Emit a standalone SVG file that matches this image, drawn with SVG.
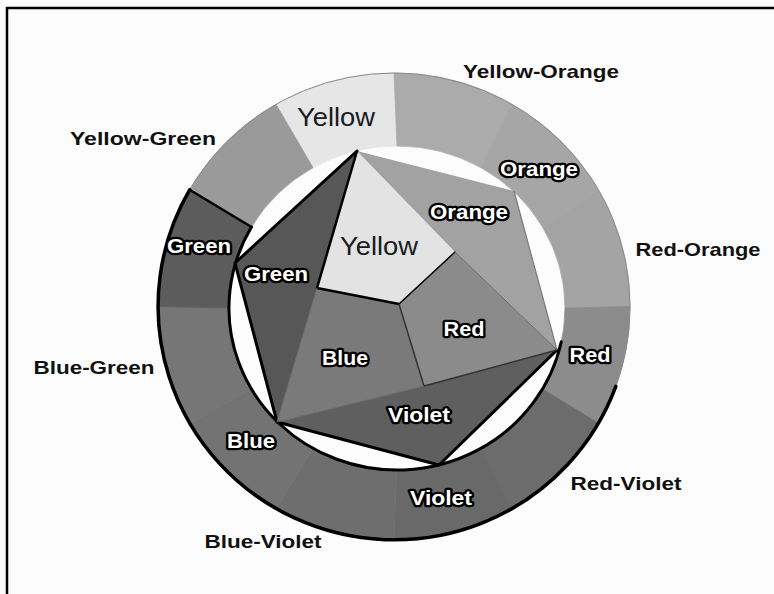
<svg xmlns="http://www.w3.org/2000/svg" width="774" height="594" viewBox="0 0 774 594">
<style>
.seg{stroke-width:0.8}
.out{font-family:"Liberation Sans",Arial,sans-serif;font-weight:bold;font-size:19px;fill:#111;text-anchor:middle}
.wl{font-family:"Liberation Sans",Arial,sans-serif;font-weight:bold;font-size:20px;fill:#fff;stroke:#000;stroke-width:4.5;stroke-linejoin:round;paint-order:stroke;text-anchor:middle}
.yl{font-family:"Liberation Sans",Arial,sans-serif;font-size:25px;fill:#1a1a22;text-anchor:middle}
.edge{fill:none;stroke:#000;stroke-linejoin:round;stroke-linecap:round}
</style>
<rect width="774" height="594" fill="#fdfcfd"/>
<path d="M7,594 L7,8 L774,8" fill="none" stroke="#000" stroke-width="2.5"/>

<g id="ring">
<path id="seg-yellow" class="seg" fill="#e6e6e6" stroke="#e6e6e6" d="M276,104.3 A236,233.5 0 0 1 394,73 L397,146 A168,162 0 0 0 313,167.7 Z"/>
<path id="seg-yellow-orange" class="seg" fill="#ababab" stroke="#ababab" d="M394,73 A236,233.5 0 0 1 512,104.3 L481,167.7 A168,162 0 0 0 397,146 Z"/>
<path id="seg-orange" class="seg" fill="#a6a6a6" stroke="#a6a6a6" d="M512,104.3 A236,233.5 0 0 1 598.4,189.8 L542.5,227 A168,162 0 0 0 481,167.7 Z"/>
<path id="seg-red-orange" class="seg" fill="#a4a4a4" stroke="#a4a4a4" d="M598.4,189.8 A236,233.5 0 0 1 630,306.5 L565,308 A168,162 0 0 0 542.5,227 Z"/>
<path id="seg-red" class="seg" fill="#8c8c8c" stroke="#8c8c8c" d="M630,306.5 A236,233.5 0 0 1 598.4,423.3 L542.5,389 A168,162 0 0 0 565,308 Z"/>
<path id="seg-red-violet" class="seg" fill="#6c6c6c" stroke="#6c6c6c" d="M598.4,423.3 A236,233.5 0 0 1 512,508.7 L481,448.3 A168,162 0 0 0 542.5,389 Z"/>
<path id="seg-violet" class="seg" fill="#696969" stroke="#696969" d="M512,508.7 A236,233.5 0 0 1 394,540 L397,470 A168,162 0 0 0 481,448.3 Z"/>
<path id="seg-blue-violet" class="seg" fill="#6e6e6e" stroke="#6e6e6e" d="M394,540 A236,233.5 0 0 1 276,508.7 L313,448.3 A168,162 0 0 0 397,470 Z"/>
<path id="seg-blue" class="seg" fill="#737373" stroke="#737373" d="M276,508.7 A236,233.5 0 0 1 189.6,423.3 L251.5,389 A168,162 0 0 0 313,448.3 Z"/>
<path id="seg-blue-green" class="seg" fill="#767676" stroke="#767676" d="M189.6,423.3 A236,233.5 0 0 1 158,306.5 L229,308 A168,162 0 0 0 251.5,389 Z"/>
<path id="seg-green" class="seg" fill="#5c5c5c" stroke="#5c5c5c" d="M158,306.5 A236,233.5 0 0 1 189.6,189.8 L251.5,227 A168,162 0 0 0 229,308 Z"/>
<path id="seg-yellow-green" class="seg" fill="#9a9a9a" stroke="#9a9a9a" d="M189.6,189.8 A236,233.5 0 0 1 276,104.3 L313,167.7 A168,162 0 0 0 251.5,227 Z"/>
<ellipse cx="394" cy="306.5" rx="236" ry="233.5" fill="none" stroke="#8a8a8a" stroke-width="1"/>
<path class="edge" stroke-width="3.5" d="M615.8,386.4 A236,233.5 0 1 1 189.6,189.8"/>
<path class="edge" stroke-width="3" d="M561.3,341.7 A168,162 0 1 1 251.5,227"/>
<path class="edge" stroke-width="2.5" d="M189.6,189.8 L251.5,227"/>
</g>

<g id="hexagon">
<path id="reg-yellow" fill="#e3e3e3" d="M357,151 L455,252 L399,304 L317,288 Z"/>
<path id="reg-orange" fill="#a2a2a2" d="M357,151 L514,191 L557,350 L455,252 Z"/>
<path id="reg-red" fill="#8b8b8b" d="M455,252 L557,350 L424,386 L399,304 Z"/>
<path id="reg-violet" fill="#5f5f5f" d="M424,386 L557,350 L439,465 L277,422 Z"/>
<path id="reg-blue" fill="#7a7a7a" d="M317,288 L399,304 L424,386 L277,422 Z"/>
<path id="reg-green" fill="#575757" d="M357,151 L317,288 L277,422 L235,263 Z"/>
</g>

<g id="connectors">
<path class="edge" stroke-width="3" d="M557,350 L439,465 L277,422 L235,263 L357,151"/>
<path fill="none" stroke="#7a7a7a" stroke-width="1.2" d="M514,191 L557,350"/>
<path class="edge" stroke-width="2.5" d="M357,151 L317,288 L399,304"/>
<path class="edge" stroke-width="1.5" d="M399,304 L455,252"/>
<path fill="none" stroke="#333" stroke-width="1.5" d="M399,304 L424,386 L557,350"/>
<path fill="none" stroke="#6a6a6a" stroke-width="1" d="M455,252 L557,350 M317,288 L277,422 M424,386 L277,422"/>
</g>

<g id="ring-labels">
<text class="yl" x="336" y="126" textLength="78" lengthAdjust="spacingAndGlyphs">Yellow</text>
<text class="wl" x="539" y="176" textLength="78" lengthAdjust="spacingAndGlyphs">Orange</text>
<text class="wl" x="590" y="362" textLength="41" lengthAdjust="spacingAndGlyphs">Red</text>
<text class="wl" x="441" y="505" textLength="62" lengthAdjust="spacingAndGlyphs">Violet</text>
<text class="wl" x="251" y="448" textLength="48" lengthAdjust="spacingAndGlyphs">Blue</text>
<text class="wl" x="199" y="253" textLength="64" lengthAdjust="spacingAndGlyphs">Green</text>
</g>

<g id="inner-labels">
<text class="yl" x="379" y="255" textLength="78" lengthAdjust="spacingAndGlyphs">Yellow</text>
<text class="wl" x="469" y="219" textLength="78" lengthAdjust="spacingAndGlyphs">Orange</text>
<text class="wl" x="464" y="336" textLength="41" lengthAdjust="spacingAndGlyphs">Red</text>
<text class="wl" x="419" y="422" textLength="62" lengthAdjust="spacingAndGlyphs">Violet</text>
<text class="wl" x="345" y="365" textLength="46" lengthAdjust="spacingAndGlyphs">Blue</text>
<text class="wl" x="276" y="281" textLength="64" lengthAdjust="spacingAndGlyphs">Green</text>
</g>

<g id="outer-labels">
<text class="out" x="541" y="78" textLength="156" lengthAdjust="spacingAndGlyphs">Yellow-Orange</text>
<text class="out" x="143" y="145" textLength="146" lengthAdjust="spacingAndGlyphs">Yellow-Green</text>
<text class="out" x="698" y="256" textLength="125" lengthAdjust="spacingAndGlyphs">Red-Orange</text>
<text class="out" x="94" y="374" textLength="121" lengthAdjust="spacingAndGlyphs">Blue-Green</text>
<text class="out" x="626" y="490" textLength="111" lengthAdjust="spacingAndGlyphs">Red-Violet</text>
<text class="out" x="263" y="548" textLength="117" lengthAdjust="spacingAndGlyphs">Blue-Violet</text>
</g>
</svg>
